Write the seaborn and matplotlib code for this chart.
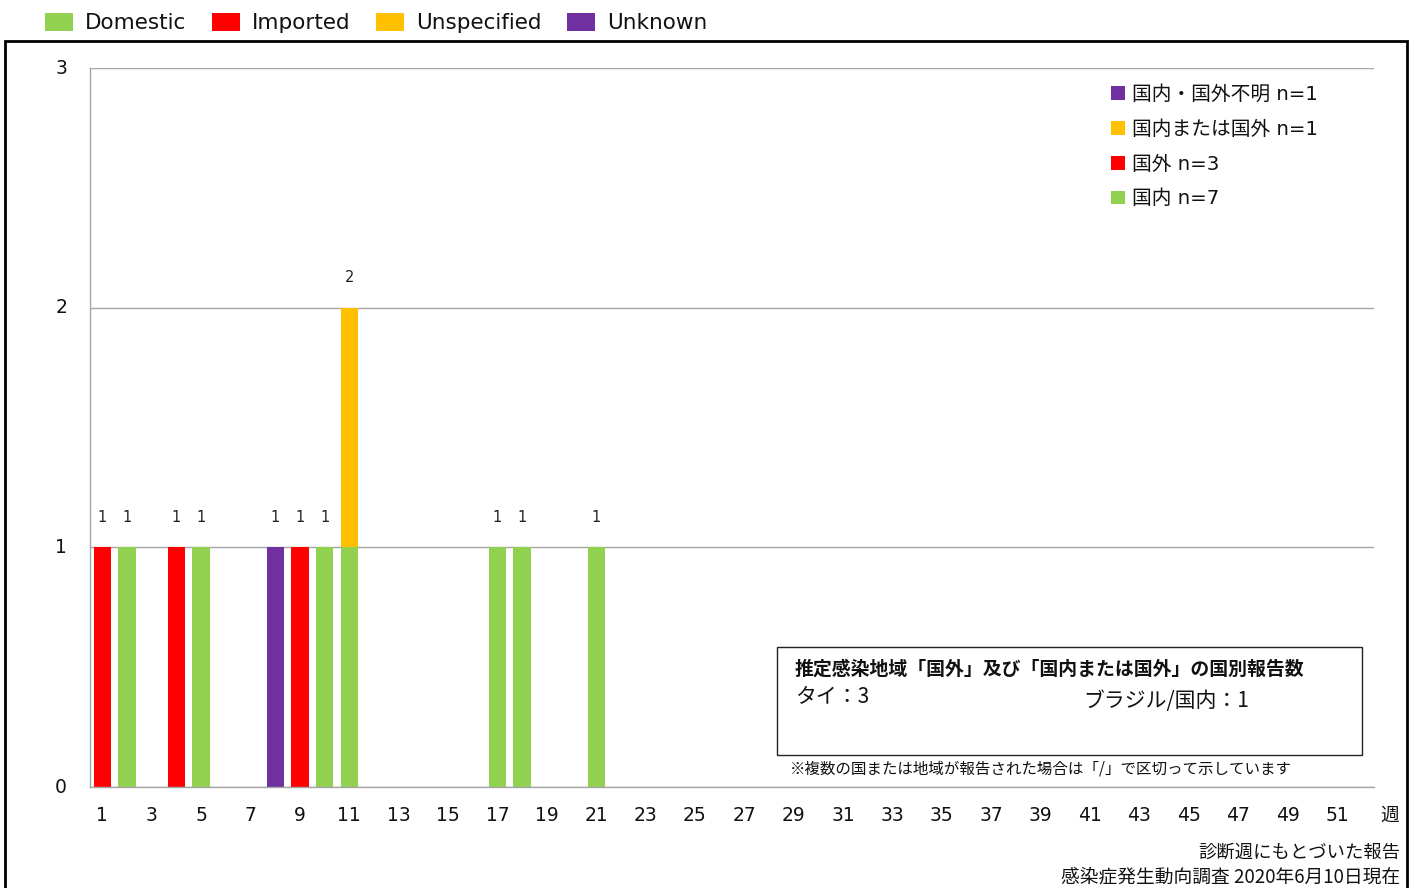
import numpy as np
import pandas as pd
import matplotlib
matplotlib.use("Agg")
import matplotlib.pyplot as plt
import seaborn as sns
from matplotlib.patches import Patch, Rectangle

# ---------------- data ----------------
domestic_weeks = [2, 5, 10, 11, 17, 18, 21]
domestic_counts = [1, 1, 1, 1, 1, 1, 1]
imported_weeks = [1, 4, 9]
imported_counts = [1, 1, 1]
unspecified_weeks = [11]
unspecified_counts = [1]
unknown_weeks = [8]
unknown_counts = [1]

series_en = ["Domestic", "Imported", "Unspecified", "Unknown"]
series_ja = ["国内", "国外", "国内または国外", "国内・国外不明"]
colors = {"Domestic": "#92D050", "Imported": "#FF0000",
          "Unspecified": "#FFC000", "Unknown": "#7030A0"}
n_weeks = 52
xtick_labels = [str(w) for w in range(1, n_weeks + 1, 2)]

box_title = "推定感染地域「国外」及び「国内または国外」の国別報告数"
box_line_left = "タイ：3"
box_line_right = "ブラジル/国内：1"
box_note = "※複数の国または地域が報告された場合は「/」で区切って示しています"
footer1 = "診断週にもとづいた報告"
footer2 = "感染症発生動向調査 2020年6月10日現在"
week_label = "週"

# ---------------- frame ----------------
rows = []
for name, wk, ct in [("Domestic", domestic_weeks, domestic_counts),
                     ("Imported", imported_weeks, imported_counts),
                     ("Unspecified", unspecified_weeks, unspecified_counts),
                     ("Unknown", unknown_weeks, unknown_counts)]:
    for w, c in zip(wk, ct):
        rows.append({"week": w, "count": c, "type": name})
df = pd.DataFrame(rows)
totals = {name: int(df.loc[df["type"] == name, "count"].sum()) for name in series_en}

sns.set_style("white")
plt.rcParams["font.family"] = ["DejaVu Sans", "Noto Sans CJK JP"]
JP = ["Noto Sans CJK JP", "DejaVu Sans"]

W, H = 1414, 888
fig = plt.figure(figsize=(W / 100, H / 100), dpi=100)
ax = fig.add_axes([90 / W, 1 - 787 / H, (1374 - 90) / W, (787 - 68) / H])

# stacking: last hue level at bottom
stack_order = ["Unknown", "Unspecified", "Imported", "Domestic"]
sns.histplot(data=df, x="week", weights="count", hue="type",
             hue_order=stack_order, multiple="stack", discrete=True,
             shrink=0.7, palette=colors, alpha=1, linewidth=0,
             legend=False, ax=ax)

# data labels (totals per week)
week_tot = df.groupby("week")["count"].sum()
for w, t in week_tot.items():
    ax.annotate(str(int(t)), (w, t), xytext=(0, 21.5), textcoords="offset points",
                ha="center", va="center", fontsize=10.5, color="#222222")

ax.set_xlim(0.5, n_weeks + 0.5)
ax.set_ylim(0, 3)
ax.set_yticks([0, 1, 2, 3])
ax.set_xticks(range(1, n_weeks + 1, 2))
ax.set_xticklabels(xtick_labels)
ax.set_xticks(np.arange(0.5, n_weeks + 1, 1), minor=True)
ax.set_xlabel("")
ax.set_ylabel("")
ax.yaxis.grid(True, color="#A6A6A6", lw=1)
ax.xaxis.grid(False)
ax.set_axisbelow(True)
for s in ["top", "right"]:
    ax.spines[s].set_visible(False)
for s in ["left", "bottom"]:
    ax.spines[s].set_color("#A6A6A6")
    ax.spines[s].set_linewidth(1)
ax.tick_params(axis="x", which="major", length=0, pad=14, labelsize=13.5, colors="#111111")
ax.tick_params(axis="x", which="minor", length=5, width=1, color="#A6A6A6", direction="out")
ax.tick_params(axis="y", which="major", length=4.5, width=1, color="#A6A6A6", pad=12,
               labelsize=13.5, labelcolor="#111111")
for lbl in ax.get_yticklabels():
    lbl.set_verticalalignment("center")

fig.text(1390 / W, 1 - 815 / H, week_label, ha="center", va="center",
         fontsize=13.5, family=JP, color="#111111")

# inner legend (Japanese)
handles_in = [Patch(facecolor=colors[n], edgecolor="none") for n in stack_order]
labels_in = [f"{series_ja[series_en.index(n)]} n={totals[n]}" for n in stack_order]
leg_in = fig.legend(handles_in, labels_in, loc="upper left",
                    bbox_to_anchor=(1111 / W, 1 - 85 / H), frameon=False,
                    fontsize=14.2, handlelength=0.7, handleheight=0.7,
                    handletextpad=0.35, labelspacing=0.8, borderpad=0,
                    borderaxespad=0)
for t in leg_in.get_texts():
    t.set_color("#111111")

# top legend (English)
handles_top = [Patch(facecolor=colors[n], edgecolor="none") for n in series_en]
leg_top = fig.legend(handles_top, series_en, loc="center left",
                     bbox_to_anchor=(45 / W, 1 - 23 / H), ncol=4, frameon=False,
                     fontsize=15.5, handlelength=1.3, handleheight=0.95,
                     handletextpad=0.55, columnspacing=1.2, borderpad=0,
                     borderaxespad=0)
for t in leg_top.get_texts():
    t.set_color("#111111")

# outer frame
fig.patches.append(Rectangle((5 / W, -0.01), 1402 / W, (H - 41) / H + 0.01,
                             transform=fig.transFigure, fill=False,
                             edgecolor="black", lw=2))

# text box
fig.patches.append(Rectangle((777 / W, 1 - 755 / H), 585 / W, 108 / H,
                             transform=fig.transFigure, fill=True, facecolor="white",
                             edgecolor="#222222", lw=1, zorder=5))
fig.text(795 / W, 1 - 669 / H, box_title, ha="left", va="center", fontsize=13.6,
         fontweight="bold", family=JP, color="#111111", zorder=6)
fig.text(795 / W, 1 - 697 / H, box_line_left, ha="left", va="center", fontsize=15,
         family=JP, color="#111111", zorder=6)
fig.text(1083 / W, 1 - 701 / H, box_line_right, ha="left", va="center", fontsize=15,
         family=JP, color="#111111", zorder=6)
fig.text(790 / W, 1 - 769 / H, box_note, ha="left", va="center", fontsize=11.2,
         family=JP, color="#111111")

# footers
fig.text(1400 / W, 1 - 853 / H, footer1, ha="right", va="center", fontsize=13.2,
         family=JP, color="#111111")
fig.text(1400 / W, 1 - 877 / H, footer2, ha="right", va="center", fontsize=13.5,
         family=JP, color="#111111")

fig.savefig("out.png", dpi=100)
